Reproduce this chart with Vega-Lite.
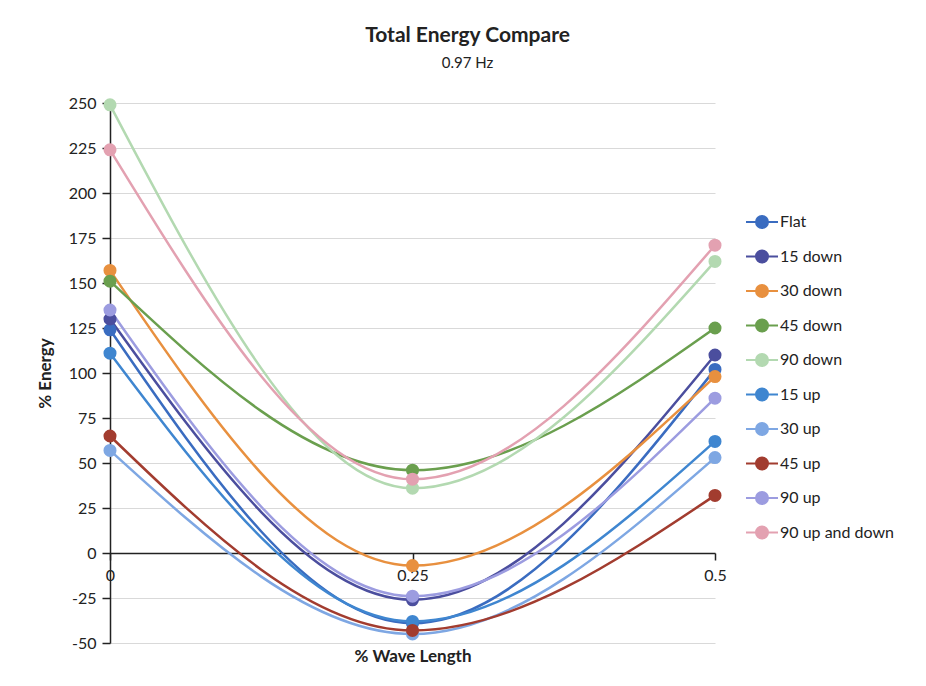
{
  "$schema": "https://vega.github.io/schema/vega-lite/v6.json",
  "width": 605,
  "height": 540,
  "autosize": "none",
  "padding": {"left": 110, "top": 103, "right": 211, "bottom": 43},
  "background": "white",
  "title": {
    "text": "Total Energy Compare",
    "subtitle": "0.97 Hz",
    "font": "Lato",
    "fontSize": 21,
    "fontWeight": "bold",
    "color": "#222222",
    "subtitleFont": "Lato",
    "subtitleFontSize": 15,
    "subtitleColor": "#222222",
    "subtitlePadding": 10,
    "anchor": "middle",
    "dx": 55,
    "offset": 24
  },
  "config": {
    "view": {"stroke": null},
    "axis": {"labelFont": "Lato", "titleFont": "Lato", "labelColor": "#222222", "titleColor": "#222222"}
  },
  "data": {
    "values": [
      {"series": "Flat", "x": 0, "y": 124}, {"series": "Flat", "x": 0.25, "y": -39}, {"series": "Flat", "x": 0.5, "y": 102},
      {"series": "15 down", "x": 0, "y": 130}, {"series": "15 down", "x": 0.25, "y": -26}, {"series": "15 down", "x": 0.5, "y": 110},
      {"series": "30 down", "x": 0, "y": 157}, {"series": "30 down", "x": 0.25, "y": -7}, {"series": "30 down", "x": 0.5, "y": 98},
      {"series": "45 down", "x": 0, "y": 151}, {"series": "45 down", "x": 0.25, "y": 46}, {"series": "45 down", "x": 0.5, "y": 125},
      {"series": "90 down", "x": 0, "y": 249}, {"series": "90 down", "x": 0.25, "y": 36}, {"series": "90 down", "x": 0.5, "y": 162},
      {"series": "15 up", "x": 0, "y": 111}, {"series": "15 up", "x": 0.25, "y": -38}, {"series": "15 up", "x": 0.5, "y": 62},
      {"series": "30 up", "x": 0, "y": 57}, {"series": "30 up", "x": 0.25, "y": -45}, {"series": "30 up", "x": 0.5, "y": 53},
      {"series": "45 up", "x": 0, "y": 65}, {"series": "45 up", "x": 0.25, "y": -43}, {"series": "45 up", "x": 0.5, "y": 32},
      {"series": "90 up", "x": 0, "y": 135}, {"series": "90 up", "x": 0.25, "y": -24}, {"series": "90 up", "x": 0.5, "y": 86},
      {"series": "90 up and down", "x": 0, "y": 224}, {"series": "90 up and down", "x": 0.25, "y": 41}, {"series": "90 up and down", "x": 0.5, "y": 171}
    ]
  },
  "mark": {"type": "line", "interpolate": "monotone", "strokeWidth": 2.5, "point": {"filled": true, "size": 170, "opacity": 1}},
  "encoding": {
    "x": {
      "field": "x", "type": "quantitative",
      "scale": {"domain": [0, 0.5], "nice": false, "zero": false},
      "axis": {
        "title": "% Wave Length", "titleFontSize": 17, "titleFontWeight": "bold",
        "values": [0, 0.25, 0.5], "labelFontSize": 16, "labelPadding": 7,
        "domainColor": "#222222", "domainWidth": 1.5, "tickColor": "#222222", "tickWidth": 1.5, "tickSize": 7,
        "grid": false, "offset": -90, "titleY": 95, "labelExpr": "toString(datum.value)", "labelFlush": false
      }
    },
    "y": {
      "field": "y", "type": "quantitative",
      "scale": {"domain": [-50, 250], "nice": false},
      "axis": {
        "title": "% Energy", "titleFontSize": 17, "titleFontWeight": "bold", "titlePadding": 14,
        "values": [-50, -25, 0, 25, 50, 75, 100, 125, 150, 175, 200, 225, 250],
        "labelFontSize": 16, "labelPadding": 6, "labelExpr": "toString(datum.value)",
        "domainColor": "#222222", "domainWidth": 1.5, "tickColor": "#222222", "tickWidth": 1.5, "tickSize": 8,
        "gridColor": "#d9d9d9", "gridWidth": 1
      }
    },
    "color": {
      "field": "series", "type": "nominal",
      "scale": {
        "domain": ["Flat", "15 down", "30 down", "45 down", "90 down", "15 up", "30 up", "45 up", "90 up", "90 up and down"],
        "range": ["#3a6cc0", "#4b4e9e", "#e8903f", "#6a9f4e", "#b3d9b1", "#3f86d0", "#7ea7e3", "#a23c2f", "#9c9ce0", "#e3a1b1"]
      },
      "legend": {
        "title": null, "orient": "none", "legendX": 643, "legendY": 110,
        "labelFont": "Lato", "labelFontSize": 16, "labelColor": "#222222",
        "symbolType": "M-2,0H-0.7M0.7,0H2M0.75,0A0.75,0.75,0,1,1,-0.75,0A0.75,0.75,0,1,1,0.75,0Z",
        "symbolSize": 256, "symbolStrokeWidth": 2, "rowPadding": 14.5, "labelOffset": 9,
        "encode": {"symbols": {"update": {"stroke": {"scale": "color", "field": "value"}, "fill": {"scale": "color", "field": "value"}, "opacity": {"value": 1}}}}
      }
    }
  }
}
